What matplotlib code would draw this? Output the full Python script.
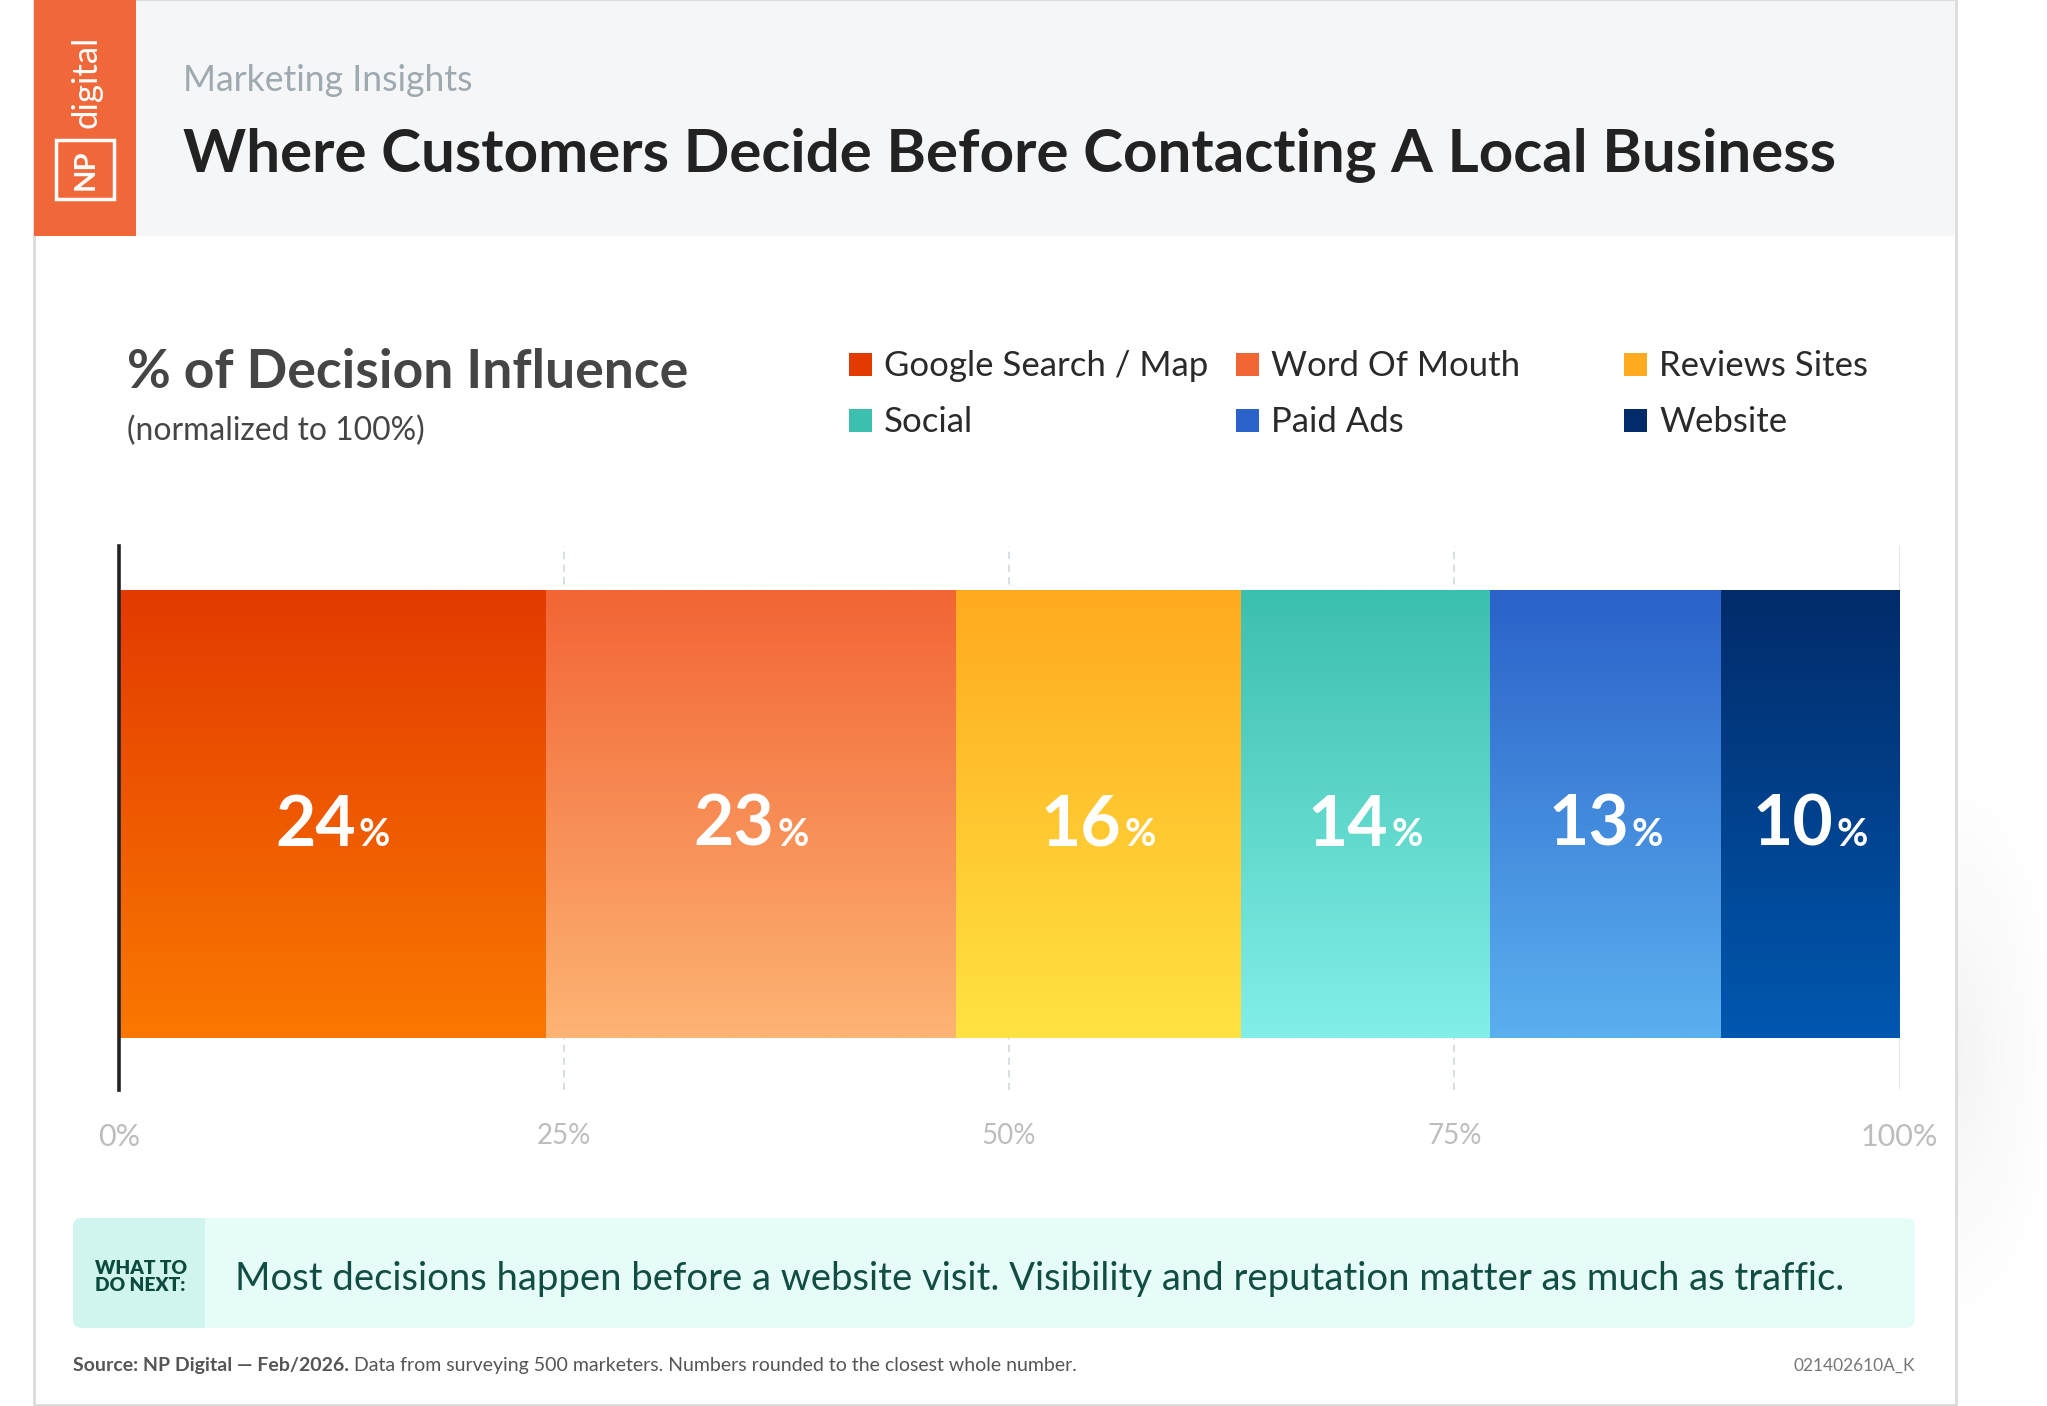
import numpy as np
import matplotlib
matplotlib.use("Agg")
import matplotlib.pyplot as plt
from matplotlib.patches import Rectangle, FancyBboxPatch
from matplotlib.colors import to_rgb

# ─── Data ────────────────────────────────────────────────────────────────────
categories = ["Google Search / Map", "Word Of Mouth", "Reviews Sites",
              "Social", "Paid Ads", "Website"]
values     = [24, 23, 16, 14, 13, 10]
tick_vals  = [0, 25, 50, 75, 100]
tick_text  = ["0%", "25%", "50%", "75%", "100%"]

# segment gradients (top -> bottom), legend uses the top colour
top_colors = ["#e33a00", "#f26535", "#ffaa1f", "#3cbfae", "#2a62c9", "#022b6a"]
bot_colors = ["#fa7800", "#fdb474", "#ffe342", "#82efe8", "#5bb0ef", "#0058b0"]

W, H = 2047, 1406
FONT = "Lato"
plt.rcParams["font.family"] = [FONT, "DejaVu Sans"]

fig = plt.figure(figsize=(W / 100, H / 100), dpi=100)
fig.patch.set_facecolor("white")
bg = fig.add_axes([0, 0, 1, 1])
bg.set_xlim(0, W)
bg.set_ylim(H, 0)
bg.axis("off")
renderer = fig.canvas.get_renderer()


def fit(ax, x, y, s, width, **kw):
    """Draw text and scale its font size so it spans `width` pixels."""
    t = ax.text(x, y, s, **kw)
    w = t.get_window_extent(renderer).width
    t.set_fontsize(t.get_fontsize() * width / w)
    return t


# soft drop shadow on the right of the card
yy, xx = np.mgrid[0:H, 1956:W]
d = np.sqrt(((xx - 1956) / 120.0) ** 2 + ((yy - 1050) / 330.0) ** 2)
shade = np.clip(1 - d, 0, 1) ** 1.5
rgba = np.zeros((H, W - 1956, 4))
rgba[..., :3] = 0.55
rgba[..., 3] = 0.10 * shade
bg.imshow(rgba, extent=(1956, W, H, 0), aspect="auto", zorder=0,
          interpolation="bilinear")
bg.set_xlim(0, W)
bg.set_ylim(H, 0)

# ─── Card + header ───────────────────────────────────────────────────────────
bg.add_patch(Rectangle((34, 0), 1922, 1405, facecolor="white",
                       edgecolor="#dcdcdc", linewidth=2, zorder=0.5))
bg.add_patch(Rectangle((35, 1), 1920, 235, facecolor="#f5f6f8",
                       edgecolor="none", zorder=1))
bg.add_patch(Rectangle((34, 0), 102, 236, facecolor="#f0673a",
                       edgecolor="none", zorder=2))
bg.text(86, 82, "digital", rotation=90, color="white", fontsize=25,
        ha="center", va="center", zorder=3)
bg.add_patch(Rectangle((56, 140), 58, 59, facecolor="none",
                       edgecolor="white", linewidth=2.5, zorder=3))
bg.text(86, 170, "NP", rotation=90, color="white", fontsize=21,
        fontweight="bold", ha="center", va="center", zorder=3)

fit(bg, 183, 91, "Marketing Insights", 290, color="#9eaab0",
    fontsize=20, va="baseline", zorder=3)
fit(bg, 183, 172, "Where Customers Decide Before Contacting A Local Business",
    1654, color="#222222", fontsize=40, fontweight="bold",
    va="baseline", zorder=3)

# ─── Chart heading + legend ──────────────────────────────────────────────────
fit(bg, 127, 388, "% of Decision Influence", 561, color="#454545",
    fontsize=30, fontweight="bold", va="baseline")
fit(bg, 127, 440, "(normalized to 100%)", 298, color="#454545",
    fontsize=18, va="baseline")

leg_x = [849, 1236, 1624]
leg_y = [376, 432]
probe = fit(bg, 0, -100, categories[0], 324, fontsize=20)
leg_fs = probe.get_fontsize()
probe.remove()
for i, (name, c) in enumerate(zip(categories, top_colors)):
    x = leg_x[i % 3]
    y = leg_y[i // 3]
    bg.add_patch(Rectangle((x, y - 23), 23, 23, facecolor=c, edgecolor="none"))
    bg.text(x + 35, y, name, fontsize=leg_fs, color="#2a2a2a", va="baseline")

# ─── Stacked bar ─────────────────────────────────────────────────────────────
ax = fig.add_axes([118.8 / W, 1 - 1090 / H, 1780.7 / W, 544.3 / H])
ax.patch.set_alpha(0)
lefts = np.concatenate([[0], np.cumsum(values)[:-1]])
bars = ax.barh(0.507, values, left=lefts, height=0.823,
               color="none", edgecolor="none", zorder=2)

for bar, c0, c1 in zip(bars, top_colors, bot_colors):
    x0, y0 = bar.get_x(), bar.get_y()
    x1, y1 = x0 + bar.get_width(), y0 + bar.get_height()
    t = np.linspace(0, 1, 256)[:, None, None]
    grad = (1 - t) * np.array(to_rgb(c0)) + t * np.array(to_rgb(c1))
    im = ax.imshow(grad, extent=(x0, x1, y0, y1), origin="upper",
                   aspect="auto", zorder=2, interpolation="bilinear")
    im.set_clip_path(bar)

ax.set_xlim(0, 100)
ax.set_ylim(0, 1)

# value labels: big number + small "%", centred as a group
num_probe = fit(ax, 0, -5, "24", 81, fontsize=50, fontweight="bold")
num_fs = num_probe.get_fontsize()
num_probe.remove()
pct_fs = num_fs * 0.55
gap = 3
for bar, v in zip(bars, values):
    cx = bar.get_x() + bar.get_width() / 2
    tn = ax.text(0, 0, f"{v}", fontsize=num_fs, fontweight="bold",
                 color="white", ha="left", va="baseline", zorder=4)
    tp = ax.text(0, 0, "%", fontsize=pct_fs, fontweight="bold",
                 color="white", ha="left", va="baseline", zorder=4)
    wn = tn.get_window_extent(renderer).width
    wp = tp.get_window_extent(renderer).width
    px, py = ax.transData.transform((cx, 0.4485))
    start = px - (wn + wp + gap) / 2
    inv = ax.transData.inverted()
    tn.set_position(inv.transform((start, py)))
    tp.set_position(inv.transform((start + wn + gap, py)))

# grid lines
for v in tick_vals[1:-1]:
    ax.axvline(v, color="#d3dcdf", linewidth=1.3, linestyle=(0, (4, 3)), zorder=1)
ax.axvline(tick_vals[-1], color="#e4e7e9", linewidth=1.3, zorder=1)

for side in ["top", "right", "bottom"]:
    ax.spines[side].set_visible(False)
ax.spines["left"].set_color("#222222")
ax.spines["left"].set_linewidth(2.6)
ax.spines["left"].set_zorder(5)
ax.set_yticks([])
ax.set_xticks(tick_vals)
ax.set_xticklabels(tick_text)
ax.tick_params(axis="x", length=0, pad=24, labelsize=20, labelcolor="#bdbdbd")
labels = ax.get_xticklabels()
labels[0].set_fontsize(22)
labels[-1].set_fontsize(22)

# ─── What to do next box ─────────────────────────────────────────────────────
bg.add_patch(FancyBboxPatch((73, 1218), 1842, 110,
                            boxstyle="round,pad=0,rounding_size=9",
                            facecolor="#e6fcf9", edgecolor="none"))
bg.add_patch(FancyBboxPatch((73, 1218), 132, 110,
                            boxstyle="round,pad=0,rounding_size=9",
                            facecolor="#d0f5ef", edgecolor="none"))
bg.add_patch(Rectangle((190, 1218), 15, 110, facecolor="#d0f5ef",
                       edgecolor="none"))
bg.text(95, 1277, "WHAT TO\nDO NEXT:", fontsize=13.8, fontweight="heavy",
        color="#0b4a3c", ha="left", va="center", linespacing=0.95)
fit(bg, 235, 1290,
    "Most decisions happen before a website visit. "
    "Visibility and reputation matter as much as traffic.",
    1604, fontsize=26, color="#124d43", va="baseline")

# ─── Footer ──────────────────────────────────────────────────────────────────
src_b = bg.text(73, 1371, "Source: NP Digital \u2014 Feb/2026.", fontsize=12,
                fontweight="bold", color="#555555", va="baseline")
src_r = bg.text(0, 1371, " Data from surveying 500 marketers. Numbers rounded "
                "to the closest whole number.", fontsize=12, color="#555555",
                va="baseline")
wb = src_b.get_window_extent(renderer).width
wr = src_r.get_window_extent(renderer).width
k = 997 / (wb + wr)
src_b.set_fontsize(12 * k)
src_r.set_fontsize(12 * k)
src_r.set_x(73 + src_b.get_window_extent(renderer).width)

bg.text(1915, 1371, "021402610A_K", fontsize=12.5, color="#777777",
        ha="right", va="baseline")

fig.savefig("out.png", dpi=100)
